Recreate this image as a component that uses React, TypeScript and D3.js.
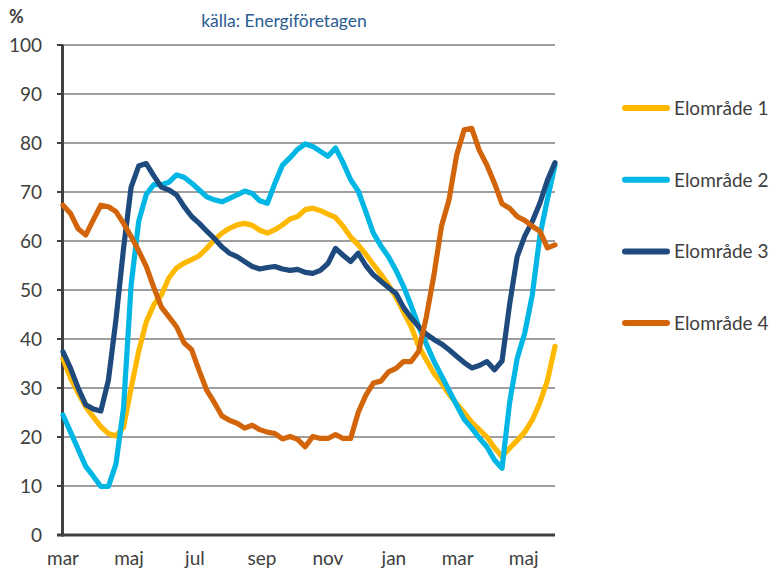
import * as d3 from 'd3';
import React, { useRef, useEffect } from 'react';

const seriesNames = ['Elområde 1', 'Elområde 2', 'Elområde 3', 'Elområde 4'];
const seriesColors = ['#FFB800', '#00B6E4', '#1F4A7E', '#D2650A'];

const monthNames = ['jan', 'feb', 'mar', 'apr', 'maj', 'jun', 'jul', 'aug', 'sep', 'okt', 'nov', 'dec'];
const yTicks = [0, 10, 20, 30, 40, 50, 60, 70, 80, 90, 100];

// weekly values from 1 march
const elomrade1 = [
  36, 32, 29, 26.2, 24.1, 22.1, 20.7, 20.2, 22, 30,
  37.5, 43.5, 47, 49, 52.5, 54.5, 55.5, 56.2, 57, 58.5,
  60.2, 61.6, 62.6, 63.3, 63.6, 63.2, 62.2, 61.6, 62.3, 63.3,
  64.5, 65, 66.4, 66.7, 66.2, 65.5, 64.8, 63, 60.8, 59.2,
  57.3, 55.2, 53.2, 51, 48.5, 45.5, 42.5, 38.5, 35.7, 33,
  31, 28.7, 26.8, 25, 23, 21.5, 20, 17.8, 16, 17.7,
  19.3, 21, 23.5, 27, 31.5, 38.5,
];
const elomrade2 = [
  24.5, 21, 17.5, 14, 12, 9.9, 9.9, 14.5, 26, 51,
  64, 69.5, 71.5, 71.5, 72, 73.5, 73, 71.8, 70.4, 69,
  68.4, 68, 68.7, 69.4, 70.2, 69.7, 68.2, 67.7, 71.8, 75.5,
  77, 78.7, 79.8, 79.3, 78.3, 77.3, 79, 76, 72.5, 70.2,
  66, 61.6, 59, 56.8, 54, 50.7, 46.8, 42.5, 39, 35.5,
  32.5, 29.5, 26.5, 23.6, 21.8, 19.8, 18, 15.3, 13.6, 27,
  36, 41.2, 49, 61, 68.5, 75.5,
];
const elomrade3 = [
  37.4, 34, 30, 26.6, 25.7, 25.3, 31.6, 44, 58.5, 71,
  75.3, 75.8, 73.3, 71, 70.4, 69.4, 67, 65, 63.6, 62,
  60.5, 58.8, 57.5, 56.8, 55.8, 54.8, 54.3, 54.6, 54.8, 54.3,
  54, 54.2, 53.6, 53.4, 54, 55.4, 58.5, 57.1, 55.8, 57.5,
  55, 53.1, 51.8, 50.5, 49.3, 46.4, 44.3, 42.5, 41, 39.9,
  39, 37.8, 36.5, 35.2, 34.1, 34.6, 35.4, 33.7, 35.5, 47,
  56.8, 61, 64, 67.7, 72.4, 76,
];
const elomrade4 = [
  67.3, 65.6, 62.5, 61.2, 64.3, 67.3, 67, 66, 63.6, 60.9,
  58, 54.8, 50.5, 46.5, 44.5, 42.5, 39.2, 37.8, 33.5, 29.5,
  27, 24.3, 23.4, 22.8, 21.8, 22.4, 21.5, 21, 20.7, 19.6,
  20.1, 19.5, 18, 20.1, 19.7, 19.7, 20.5, 19.7, 19.7, 25,
  28.5, 31, 31.4, 33.3, 34, 35.4, 35.4, 37.5, 44.5, 53,
  63, 68.4, 77.5, 82.7, 83, 78.5, 75.5, 71.8, 67.6, 66.7,
  65, 64.2, 63, 62, 58.6, 59.2,
];

const startDate = new Date(2014, 2, 1);
const dates = elomrade1.map((_, i) => d3.timeDay.offset(startDate, i * 7));

const W = 771;
const H = 571;
const font = 'Lato, "Open Sans", sans-serif';

function App() {
  const ref = useRef<SVGSVGElement>(null);

  useEffect(() => {
    const svg = d3.select(ref.current);
    svg.selectAll('*').remove();

    const x = d3.scaleTime().domain([dates[0], dates[dates.length - 1]]).range([63, 555]);
    const y = d3.scaleLinear().domain([0, 100]).range([535, 45]);

    // gridlines
    svg
      .append('g')
      .selectAll('line')
      .data(yTicks.filter((d) => d > 0))
      .enter()
      .append('line')
      .attr('x1', 63)
      .attr('x2', 555)
      .attr('y1', (d) => y(d))
      .attr('y2', (d) => y(d))
      .attr('stroke', '#7f7f7f')
      .attr('stroke-width', 1.4);

    // y ticks + labels
    const yt = svg.append('g').selectAll('g').data(yTicks).enter().append('g');
    yt.append('line')
      .attr('x1', 57)
      .attr('x2', 63)
      .attr('y1', (d) => y(d))
      .attr('y2', (d) => y(d))
      .attr('stroke', '#404040')
      .attr('stroke-width', 2);
    yt.append('text')
      .attr('x', 42)
      .attr('y', (d) => y(d))
      .attr('dy', '0.36em')
      .attr('text-anchor', 'end')
      .style('font-family', font)
      .style('font-size', '19px')
      .attr('fill', '#404040')
      .text((d) => d);

    // axes
    svg.append('line')
      .attr('x1', 62.5).attr('x2', 62.5)
      .attr('y1', y(100)).attr('y2', y(0) + 1.5)
      .attr('stroke', '#404040').attr('stroke-width', 3);
    svg.append('line')
      .attr('x1', 57).attr('x2', 555)
      .attr('y1', y(0)).attr('y2', y(0))
      .attr('stroke', '#404040').attr('stroke-width', 3);

    // x labels
    const xTicks = x.ticks(d3.timeMonth.every(2));
    svg
      .append('g')
      .selectAll('text')
      .data(xTicks)
      .enter()
      .append('text')
      .attr('x', (d) => x(d))
      .attr('y', 565)
      .attr('text-anchor', 'middle')
      .style('font-family', font)
      .style('font-size', '19px')
      .attr('fill', '#404040')
      .text((d) => monthNames[d.getMonth()]);

    // lines
    const allSeries = [elomrade1, elomrade2, elomrade3, elomrade4];
    const line = d3
      .line<number>()
      .x((_, i) => x(dates[i]))
      .y((d) => y(d));
    svg
      .append('g')
      .selectAll('path')
      .data(allSeries)
      .enter()
      .append('path')
      .attr('d', (d) => line(d))
      .attr('fill', 'none')
      .attr('stroke', (_, i) => seriesColors[i])
      .attr('stroke-width', 5.2)
      .attr('stroke-linejoin', 'round')
      .attr('stroke-linecap', 'round');

    // legend
    const lg = svg
      .append('g')
      .selectAll('g')
      .data(seriesNames)
      .enter()
      .append('g')
      .attr('transform', (_, i) => `translate(623, ${108 + i * 71.7})`);
    lg.append('line')
      .attr('x1', 2).attr('x2', 44)
      .attr('stroke', (_, i) => seriesColors[i])
      .attr('stroke-width', 6)
      .attr('stroke-linecap', 'round');
    lg.append('text')
      .attr('x', 51)
      .attr('dy', '0.36em')
      .style('font-family', font)
      .style('font-size', '19px')
      .attr('fill', '#404040')
      .text((d) => d);

    // titles
    svg.append('text')
      .attr('x', 9).attr('y', 23)
      .style('font-family', font)
      .style('font-size', '18px')
      .style('font-weight', 'bold')
      .attr('fill', '#404040')
      .text('%');
    svg.append('text')
      .attr('x', 284).attr('y', 27)
      .attr('text-anchor', 'middle')
      .style('font-family', font)
      .style('font-size', '17.5px')
      .attr('fill', '#2B5C92')
      .text('källa: Energiföretagen');
  }, []);

  return (
    <svg
      ref={ref}
      width={W}
      height={H}
      style={{ position: 'absolute', left: 0, top: 0, background: '#fff' }}
    />
  );
}

export default App;
